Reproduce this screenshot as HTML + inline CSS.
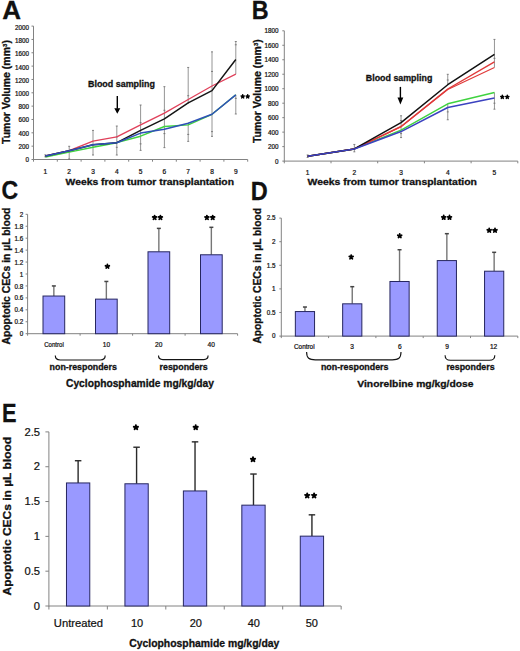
<!DOCTYPE html>
<html><head><meta charset="utf-8"><title>Figure</title>
<style>
html,body{margin:0;padding:0;background:#fff;}
body{width:520px;height:651px;overflow:hidden;}
svg{display:block;font-family:"Liberation Sans", sans-serif;}
</style></head><body>
<svg width="520" height="651" viewBox="0 0 520 651" fill="#111">
<rect x="0" y="0" width="520" height="651" fill="#fff"/>
<line x1="33.5" y1="26.1" x2="33.5" y2="160" stroke="#828282" stroke-width="1"/>
<line x1="33.5" y1="159.5" x2="247.7" y2="159.5" stroke="#828282" stroke-width="1"/>
<line x1="31.5" y1="159.5" x2="33.5" y2="159.5" stroke="#828282" stroke-width="1"/>
<text x="29" y="162.15" font-size="6.3" stroke="#111" stroke-width="0.22" text-anchor="end">0</text>
<line x1="31.5" y1="146.16" x2="33.5" y2="146.16" stroke="#828282" stroke-width="1"/>
<text x="29" y="148.93" font-size="6.3" stroke="#111" stroke-width="0.22" text-anchor="end">200</text>
<line x1="31.5" y1="132.82" x2="33.5" y2="132.82" stroke="#828282" stroke-width="1"/>
<text x="29" y="135.71" font-size="6.3" stroke="#111" stroke-width="0.22" text-anchor="end">400</text>
<line x1="31.5" y1="119.48" x2="33.5" y2="119.48" stroke="#828282" stroke-width="1"/>
<text x="29" y="122.49" font-size="6.3" stroke="#111" stroke-width="0.22" text-anchor="end">600</text>
<line x1="31.5" y1="106.14" x2="33.5" y2="106.14" stroke="#828282" stroke-width="1"/>
<text x="29" y="109.27" font-size="6.3" stroke="#111" stroke-width="0.22" text-anchor="end">800</text>
<line x1="31.5" y1="92.8" x2="33.5" y2="92.8" stroke="#828282" stroke-width="1"/>
<text x="29" y="96.05" font-size="6.3" stroke="#111" stroke-width="0.22" text-anchor="end">1000</text>
<line x1="31.5" y1="79.46" x2="33.5" y2="79.46" stroke="#828282" stroke-width="1"/>
<text x="29" y="82.83" font-size="6.3" stroke="#111" stroke-width="0.22" text-anchor="end">1200</text>
<line x1="31.5" y1="66.12" x2="33.5" y2="66.12" stroke="#828282" stroke-width="1"/>
<text x="29" y="69.61" font-size="6.3" stroke="#111" stroke-width="0.22" text-anchor="end">1400</text>
<line x1="31.5" y1="52.78" x2="33.5" y2="52.78" stroke="#828282" stroke-width="1"/>
<text x="29" y="56.39" font-size="6.3" stroke="#111" stroke-width="0.22" text-anchor="end">1600</text>
<line x1="31.5" y1="39.44" x2="33.5" y2="39.44" stroke="#828282" stroke-width="1"/>
<text x="29" y="43.17" font-size="6.3" stroke="#111" stroke-width="0.22" text-anchor="end">1800</text>
<line x1="31.5" y1="26.1" x2="33.5" y2="26.1" stroke="#828282" stroke-width="1"/>
<text x="29" y="29.95" font-size="6.3" stroke="#111" stroke-width="0.22" text-anchor="end">2000</text>
<line x1="33.5" y1="159.5" x2="33.5" y2="161.7" stroke="#828282" stroke-width="1"/>
<line x1="57.3" y1="159.5" x2="57.3" y2="161.7" stroke="#828282" stroke-width="1"/>
<line x1="81.1" y1="159.5" x2="81.1" y2="161.7" stroke="#828282" stroke-width="1"/>
<line x1="104.9" y1="159.5" x2="104.9" y2="161.7" stroke="#828282" stroke-width="1"/>
<line x1="128.7" y1="159.5" x2="128.7" y2="161.7" stroke="#828282" stroke-width="1"/>
<line x1="152.5" y1="159.5" x2="152.5" y2="161.7" stroke="#828282" stroke-width="1"/>
<line x1="176.3" y1="159.5" x2="176.3" y2="161.7" stroke="#828282" stroke-width="1"/>
<line x1="200.1" y1="159.5" x2="200.1" y2="161.7" stroke="#828282" stroke-width="1"/>
<line x1="223.9" y1="159.5" x2="223.9" y2="161.7" stroke="#828282" stroke-width="1"/>
<line x1="247.7" y1="159.5" x2="247.7" y2="161.7" stroke="#828282" stroke-width="1"/>
<text x="45.4" y="173.5" font-size="6.6" stroke="#111" stroke-width="0.22" text-anchor="middle">1</text>
<text x="69.2" y="173.5" font-size="6.6" stroke="#111" stroke-width="0.22" text-anchor="middle">2</text>
<text x="93" y="173.5" font-size="6.6" stroke="#111" stroke-width="0.22" text-anchor="middle">3</text>
<text x="116.8" y="173.5" font-size="6.6" stroke="#111" stroke-width="0.22" text-anchor="middle">4</text>
<text x="140.6" y="173.5" font-size="6.6" stroke="#111" stroke-width="0.22" text-anchor="middle">5</text>
<text x="164.4" y="173.5" font-size="6.6" stroke="#111" stroke-width="0.22" text-anchor="middle">6</text>
<text x="188.2" y="173.5" font-size="6.6" stroke="#111" stroke-width="0.22" text-anchor="middle">7</text>
<text x="212" y="173.5" font-size="6.6" stroke="#111" stroke-width="0.22" text-anchor="middle">8</text>
<text x="235.8" y="173.5" font-size="6.6" stroke="#111" stroke-width="0.22" text-anchor="middle">9</text>
<line x1="45.4" y1="156.83" x2="45.4" y2="154.83" stroke="#7a7a7a" stroke-width="0.8"/>
<line x1="44.4" y1="156.83" x2="46.4" y2="156.83" stroke="#6a6a6a" stroke-width="0.8"/>
<line x1="44.4" y1="154.83" x2="46.4" y2="154.83" stroke="#6a6a6a" stroke-width="0.8"/>
<line x1="69.2" y1="158.97" x2="69.2" y2="146.29" stroke="#7a7a7a" stroke-width="0.8"/>
<line x1="68.2" y1="158.97" x2="70.2" y2="158.97" stroke="#6a6a6a" stroke-width="0.8"/>
<line x1="68.2" y1="146.29" x2="70.2" y2="146.29" stroke="#6a6a6a" stroke-width="0.8"/>
<line x1="93" y1="155.03" x2="93" y2="130.42" stroke="#7a7a7a" stroke-width="0.8"/>
<line x1="92" y1="155.03" x2="94" y2="155.03" stroke="#6a6a6a" stroke-width="0.8"/>
<line x1="92" y1="147.29" x2="94" y2="147.29" stroke="#6a6a6a" stroke-width="0.8"/>
<line x1="92" y1="130.42" x2="94" y2="130.42" stroke="#6a6a6a" stroke-width="0.8"/>
<line x1="116.8" y1="155.03" x2="116.8" y2="126.02" stroke="#7a7a7a" stroke-width="0.8"/>
<line x1="115.8" y1="155.03" x2="117.8" y2="155.03" stroke="#6a6a6a" stroke-width="0.8"/>
<line x1="115.8" y1="147.29" x2="117.8" y2="147.29" stroke="#6a6a6a" stroke-width="0.8"/>
<line x1="115.8" y1="136.82" x2="117.8" y2="136.82" stroke="#6a6a6a" stroke-width="0.8"/>
<line x1="115.8" y1="126.02" x2="117.8" y2="126.02" stroke="#6a6a6a" stroke-width="0.8"/>
<line x1="140.6" y1="150.36" x2="140.6" y2="105.01" stroke="#7a7a7a" stroke-width="0.8"/>
<line x1="139.6" y1="150.36" x2="141.6" y2="150.36" stroke="#6a6a6a" stroke-width="0.8"/>
<line x1="139.6" y1="143.89" x2="141.6" y2="143.89" stroke="#6a6a6a" stroke-width="0.8"/>
<line x1="139.6" y1="122.68" x2="141.6" y2="122.68" stroke="#6a6a6a" stroke-width="0.8"/>
<line x1="139.6" y1="105.01" x2="141.6" y2="105.01" stroke="#6a6a6a" stroke-width="0.8"/>
<line x1="164.4" y1="147.63" x2="164.4" y2="86.66" stroke="#7a7a7a" stroke-width="0.8"/>
<line x1="163.4" y1="147.63" x2="165.4" y2="147.63" stroke="#6a6a6a" stroke-width="0.8"/>
<line x1="163.4" y1="133.62" x2="165.4" y2="133.62" stroke="#6a6a6a" stroke-width="0.8"/>
<line x1="163.4" y1="110.28" x2="165.4" y2="110.28" stroke="#6a6a6a" stroke-width="0.8"/>
<line x1="163.4" y1="86.66" x2="165.4" y2="86.66" stroke="#6a6a6a" stroke-width="0.8"/>
<line x1="188.2" y1="141.36" x2="188.2" y2="122.68" stroke="#7a7a7a" stroke-width="0.8"/>
<line x1="188.2" y1="103.81" x2="188.2" y2="67.45" stroke="#7a7a7a" stroke-width="0.8"/>
<line x1="187.2" y1="141.36" x2="189.2" y2="141.36" stroke="#6a6a6a" stroke-width="0.8"/>
<line x1="187.2" y1="134.42" x2="189.2" y2="134.42" stroke="#6a6a6a" stroke-width="0.8"/>
<line x1="187.2" y1="95.73" x2="189.2" y2="95.73" stroke="#6a6a6a" stroke-width="0.8"/>
<line x1="187.2" y1="67.45" x2="189.2" y2="67.45" stroke="#6a6a6a" stroke-width="0.8"/>
<line x1="212" y1="136.36" x2="212" y2="51.85" stroke="#7a7a7a" stroke-width="0.8"/>
<line x1="211" y1="136.36" x2="213" y2="136.36" stroke="#6a6a6a" stroke-width="0.8"/>
<line x1="211" y1="131.62" x2="213" y2="131.62" stroke="#6a6a6a" stroke-width="0.8"/>
<line x1="211" y1="71.46" x2="213" y2="71.46" stroke="#6a6a6a" stroke-width="0.8"/>
<line x1="211" y1="51.85" x2="213" y2="51.85" stroke="#6a6a6a" stroke-width="0.8"/>
<line x1="235.8" y1="114.01" x2="235.8" y2="94.8" stroke="#7a7a7a" stroke-width="0.8"/>
<line x1="235.8" y1="74.19" x2="235.8" y2="41.51" stroke="#7a7a7a" stroke-width="0.8"/>
<line x1="234.8" y1="114.01" x2="236.8" y2="114.01" stroke="#6a6a6a" stroke-width="0.8"/>
<line x1="234.8" y1="98.34" x2="236.8" y2="98.34" stroke="#6a6a6a" stroke-width="0.8"/>
<line x1="234.8" y1="44.78" x2="236.8" y2="44.78" stroke="#6a6a6a" stroke-width="0.8"/>
<line x1="234.8" y1="41.51" x2="236.8" y2="41.51" stroke="#6a6a6a" stroke-width="0.8"/>
<polyline points="45.4,157.1 69.2,152.16 93,147.29 116.8,142.69 140.6,136.22 164.4,126.48 188.2,124.88 212,114.28 235.8,94.8" fill="none" stroke="#3fd23f" stroke-width="1.4" stroke-linejoin="round"/>
<polyline points="45.4,155.9 69.2,150.7 93,141.22 116.8,136.82 140.6,124.82 164.4,113.08 188.2,99.47 212,86 235.8,74.19" fill="none" stroke="#e0405a" stroke-width="1.3" stroke-linejoin="round"/>
<polyline points="45.4,155.9 69.2,150.7 93,144.83 116.8,142.69 140.6,130.42 164.4,118.81 188.2,102.87 212,90.6 235.8,59.52" fill="none" stroke="#151515" stroke-width="1.5" stroke-linejoin="round"/>
<polyline points="45.4,155.9 69.2,150.7 93,144.83 116.8,142.69 140.6,133.09 164.4,129.22 188.2,123.22 212,114.28 235.8,94.8" fill="none" stroke="#2f50b8" stroke-width="1.5" stroke-linejoin="round"/>
<text x="2.3" y="18.75" font-size="25.5" stroke="#111" stroke-width="0.3" font-weight="bold" transform="matrix(1.02 0 0 1 -0.05 0)">A</text>
<text x="9.9" y="144" font-size="10.5" stroke="#111" stroke-width="0.3" font-weight="bold" transform="rotate(-90 9.9 144)">Tumor Volume (mm<tspan font-size="6.0" dy="-3.3">3</tspan><tspan dy="3.3">)</tspan></text>
<text x="88" y="86.9" font-size="9.1" stroke="#111" stroke-width="0.3" font-weight="bold" textLength="66.9" lengthAdjust="spacingAndGlyphs">Blood sampling</text>
<line x1="117.3" y1="96" x2="117.3" y2="108.7" stroke="#000" stroke-width="1.4"/>
<polygon points="114.3,108.2 120.3,108.2 117.3,113.8" fill="#000"/>
<path d="M242.7,96.5L242.7,94.84M242.7,96.5L244.27,95.99M242.7,96.5L243.67,97.84M242.7,96.5L241.73,97.84M242.7,96.5L241.13,95.99" stroke="#000" stroke-width="1.49" stroke-linecap="round" fill="none"/>
<path d="M247.7,96.5L247.7,94.84M247.7,96.5L249.27,95.99M247.7,96.5L248.67,97.84M247.7,96.5L246.73,97.84M247.7,96.5L246.13,95.99" stroke="#000" stroke-width="1.49" stroke-linecap="round" fill="none"/>
<text x="65.6" y="185" font-size="9.4" stroke="#111" stroke-width="0.3" font-weight="bold" textLength="168.4" lengthAdjust="spacingAndGlyphs">Weeks from tumor transplantation</text>
<line x1="284.3" y1="30.8" x2="284.3" y2="161.6" stroke="#828282" stroke-width="1"/>
<line x1="284.3" y1="161.1" x2="517.8" y2="161.1" stroke="#828282" stroke-width="1"/>
<line x1="282.3" y1="161.1" x2="284.3" y2="161.1" stroke="#828282" stroke-width="1"/>
<text x="278.4" y="163.65" font-size="6.3" stroke="#111" stroke-width="0.22" text-anchor="end">0</text>
<line x1="282.3" y1="146.62" x2="284.3" y2="146.62" stroke="#828282" stroke-width="1"/>
<text x="278.4" y="149.17" font-size="6.3" stroke="#111" stroke-width="0.22" text-anchor="end">200</text>
<line x1="282.3" y1="132.14" x2="284.3" y2="132.14" stroke="#828282" stroke-width="1"/>
<text x="278.4" y="134.69" font-size="6.3" stroke="#111" stroke-width="0.22" text-anchor="end">400</text>
<line x1="282.3" y1="117.67" x2="284.3" y2="117.67" stroke="#828282" stroke-width="1"/>
<text x="278.4" y="120.22" font-size="6.3" stroke="#111" stroke-width="0.22" text-anchor="end">600</text>
<line x1="282.3" y1="103.19" x2="284.3" y2="103.19" stroke="#828282" stroke-width="1"/>
<text x="278.4" y="105.74" font-size="6.3" stroke="#111" stroke-width="0.22" text-anchor="end">800</text>
<line x1="282.3" y1="88.71" x2="284.3" y2="88.71" stroke="#828282" stroke-width="1"/>
<text x="278.4" y="91.26" font-size="6.3" stroke="#111" stroke-width="0.22" text-anchor="end">1000</text>
<line x1="282.3" y1="74.23" x2="284.3" y2="74.23" stroke="#828282" stroke-width="1"/>
<text x="278.4" y="76.78" font-size="6.3" stroke="#111" stroke-width="0.22" text-anchor="end">1200</text>
<line x1="282.3" y1="59.76" x2="284.3" y2="59.76" stroke="#828282" stroke-width="1"/>
<text x="278.4" y="62.31" font-size="6.3" stroke="#111" stroke-width="0.22" text-anchor="end">1400</text>
<line x1="282.3" y1="45.28" x2="284.3" y2="45.28" stroke="#828282" stroke-width="1"/>
<text x="278.4" y="47.83" font-size="6.3" stroke="#111" stroke-width="0.22" text-anchor="end">1600</text>
<line x1="282.3" y1="30.8" x2="284.3" y2="30.8" stroke="#828282" stroke-width="1"/>
<text x="278.4" y="33.35" font-size="6.3" stroke="#111" stroke-width="0.22" text-anchor="end">1800</text>
<line x1="284.3" y1="161.1" x2="284.3" y2="163.3" stroke="#828282" stroke-width="1"/>
<line x1="331" y1="161.1" x2="331" y2="163.3" stroke="#828282" stroke-width="1"/>
<line x1="377.7" y1="161.1" x2="377.7" y2="163.3" stroke="#828282" stroke-width="1"/>
<line x1="424.4" y1="161.1" x2="424.4" y2="163.3" stroke="#828282" stroke-width="1"/>
<line x1="471.1" y1="161.1" x2="471.1" y2="163.3" stroke="#828282" stroke-width="1"/>
<line x1="517.8" y1="161.1" x2="517.8" y2="163.3" stroke="#828282" stroke-width="1"/>
<text x="307.65" y="174.5" font-size="6.6" stroke="#111" stroke-width="0.22" text-anchor="middle">1</text>
<text x="354.35" y="174.5" font-size="6.6" stroke="#111" stroke-width="0.22" text-anchor="middle">2</text>
<text x="401.05" y="174.5" font-size="6.6" stroke="#111" stroke-width="0.22" text-anchor="middle">3</text>
<text x="447.75" y="174.5" font-size="6.6" stroke="#111" stroke-width="0.22" text-anchor="middle">4</text>
<text x="494.45" y="174.5" font-size="6.6" stroke="#111" stroke-width="0.22" text-anchor="middle">5</text>
<line x1="307.65" y1="157.48" x2="307.65" y2="154.95" stroke="#7a7a7a" stroke-width="0.8"/>
<line x1="306.65" y1="157.48" x2="308.65" y2="157.48" stroke="#6a6a6a" stroke-width="0.8"/>
<line x1="306.65" y1="154.95" x2="308.65" y2="154.95" stroke="#6a6a6a" stroke-width="0.8"/>
<line x1="354.35" y1="151.83" x2="354.35" y2="144.45" stroke="#7a7a7a" stroke-width="0.8"/>
<line x1="353.35" y1="151.83" x2="355.35" y2="151.83" stroke="#6a6a6a" stroke-width="0.8"/>
<line x1="353.35" y1="144.45" x2="355.35" y2="144.45" stroke="#6a6a6a" stroke-width="0.8"/>
<line x1="401.05" y1="137.57" x2="401.05" y2="115.78" stroke="#7a7a7a" stroke-width="0.8"/>
<line x1="400.05" y1="137.57" x2="402.05" y2="137.57" stroke="#6a6a6a" stroke-width="0.8"/>
<line x1="400.05" y1="133.59" x2="402.05" y2="133.59" stroke="#6a6a6a" stroke-width="0.8"/>
<line x1="400.05" y1="120.56" x2="402.05" y2="120.56" stroke="#6a6a6a" stroke-width="0.8"/>
<line x1="400.05" y1="115.78" x2="402.05" y2="115.78" stroke="#6a6a6a" stroke-width="0.8"/>
<line x1="447.75" y1="119.77" x2="447.75" y2="104.06" stroke="#7a7a7a" stroke-width="0.8"/>
<line x1="447.75" y1="84.73" x2="447.75" y2="74.31" stroke="#7a7a7a" stroke-width="0.8"/>
<line x1="446.75" y1="119.77" x2="448.75" y2="119.77" stroke="#6a6a6a" stroke-width="0.8"/>
<line x1="446.75" y1="111.88" x2="448.75" y2="111.88" stroke="#6a6a6a" stroke-width="0.8"/>
<line x1="446.75" y1="80.02" x2="448.75" y2="80.02" stroke="#6a6a6a" stroke-width="0.8"/>
<line x1="446.75" y1="74.31" x2="448.75" y2="74.31" stroke="#6a6a6a" stroke-width="0.8"/>
<line x1="494.45" y1="109.2" x2="494.45" y2="92.55" stroke="#7a7a7a" stroke-width="0.8"/>
<line x1="494.45" y1="67.5" x2="494.45" y2="39.41" stroke="#7a7a7a" stroke-width="0.8"/>
<line x1="493.45" y1="109.2" x2="495.45" y2="109.2" stroke="#6a6a6a" stroke-width="0.8"/>
<line x1="493.45" y1="103.19" x2="495.45" y2="103.19" stroke="#6a6a6a" stroke-width="0.8"/>
<line x1="493.45" y1="58.31" x2="495.45" y2="58.31" stroke="#6a6a6a" stroke-width="0.8"/>
<line x1="493.45" y1="39.41" x2="495.45" y2="39.41" stroke="#6a6a6a" stroke-width="0.8"/>
<polyline points="307.65,156.25 354.35,148.94 401.05,130.19 447.75,103.77 494.45,92.55" fill="none" stroke="#3fd23f" stroke-width="1.4" stroke-linejoin="round"/>
<polyline points="307.65,156.25 354.35,148.94 401.05,126.79 447.75,89.44 494.45,67.5" fill="none" stroke="#e03a3a" stroke-width="1.2" stroke-linejoin="round"/>
<polyline points="307.65,156.25 354.35,148.94 401.05,126.5 447.75,89 494.45,61.78" fill="none" stroke="#e03a3a" stroke-width="1.4" stroke-linejoin="round"/>
<polyline points="307.65,156.25 354.35,148.94 401.05,122.59 447.75,84.73 494.45,54.47" fill="none" stroke="#111" stroke-width="1.5" stroke-linejoin="round"/>
<polyline points="307.65,156.25 354.35,148.94 401.05,131.57 447.75,107.53 494.45,98.05" fill="none" stroke="#3b42c0" stroke-width="1.5" stroke-linejoin="round"/>
<text x="250.9" y="18.9" font-size="25.4" stroke="#111" stroke-width="0.3" font-weight="bold" transform="matrix(0.92 0 0 1 20.82 0)">B</text>
<text x="260.9" y="143.1" font-size="10.5" stroke="#111" stroke-width="0.3" font-weight="bold" transform="rotate(-90 260.9 143.1)">Tumor Volume (mm<tspan font-size="6.0" dy="-3.3">3</tspan><tspan dy="3.3">)</tspan></text>
<text x="365.8" y="80.8" font-size="9.1" stroke="#111" stroke-width="0.3" font-weight="bold" textLength="66.5" lengthAdjust="spacingAndGlyphs">Blood sampling</text>
<line x1="400.4" y1="86.9" x2="400.4" y2="98" stroke="#000" stroke-width="1.4"/>
<polygon points="397.5,97.5 403.3,97.5 400.4,104.6" fill="#000"/>
<path d="M502.3,97L502.3,95.34M502.3,97L503.87,96.49M502.3,97L503.27,98.34M502.3,97L501.33,98.34M502.3,97L500.73,96.49" stroke="#000" stroke-width="1.49" stroke-linecap="round" fill="none"/>
<path d="M507.3,97L507.3,95.34M507.3,97L508.87,96.49M507.3,97L508.27,98.34M507.3,97L506.33,98.34M507.3,97L505.73,96.49" stroke="#000" stroke-width="1.49" stroke-linecap="round" fill="none"/>
<text x="307.5" y="184.8" font-size="9.4" stroke="#111" stroke-width="0.3" font-weight="bold" textLength="169.5" lengthAdjust="spacingAndGlyphs">Weeks from tumor transplantation</text>
<line x1="27.6" y1="214.3" x2="27.6" y2="334.2" stroke="#828282" stroke-width="1"/>
<line x1="27.6" y1="333.7" x2="237.6" y2="333.7" stroke="#828282" stroke-width="1"/>
<line x1="25.6" y1="333.7" x2="27.6" y2="333.7" stroke="#828282" stroke-width="1"/>
<text x="23.2" y="336.26" font-size="6.3" stroke="#111" stroke-width="0.22" text-anchor="end">0</text>
<line x1="25.6" y1="321.76" x2="27.6" y2="321.76" stroke="#828282" stroke-width="1"/>
<text x="23.2" y="324.32" font-size="6.3" stroke="#111" stroke-width="0.22" text-anchor="end">0.2</text>
<line x1="25.6" y1="309.82" x2="27.6" y2="309.82" stroke="#828282" stroke-width="1"/>
<text x="23.2" y="312.38" font-size="6.3" stroke="#111" stroke-width="0.22" text-anchor="end">0.4</text>
<line x1="25.6" y1="297.88" x2="27.6" y2="297.88" stroke="#828282" stroke-width="1"/>
<text x="23.2" y="300.44" font-size="6.3" stroke="#111" stroke-width="0.22" text-anchor="end">0.6</text>
<line x1="25.6" y1="285.94" x2="27.6" y2="285.94" stroke="#828282" stroke-width="1"/>
<text x="23.2" y="288.5" font-size="6.3" stroke="#111" stroke-width="0.22" text-anchor="end">0.8</text>
<line x1="25.6" y1="274" x2="27.6" y2="274" stroke="#828282" stroke-width="1"/>
<text x="23.2" y="276.56" font-size="6.3" stroke="#111" stroke-width="0.22" text-anchor="end">1</text>
<line x1="25.6" y1="262.06" x2="27.6" y2="262.06" stroke="#828282" stroke-width="1"/>
<text x="23.2" y="264.62" font-size="6.3" stroke="#111" stroke-width="0.22" text-anchor="end">1.2</text>
<line x1="25.6" y1="250.12" x2="27.6" y2="250.12" stroke="#828282" stroke-width="1"/>
<text x="23.2" y="252.68" font-size="6.3" stroke="#111" stroke-width="0.22" text-anchor="end">1.4</text>
<line x1="25.6" y1="238.18" x2="27.6" y2="238.18" stroke="#828282" stroke-width="1"/>
<text x="23.2" y="240.74" font-size="6.3" stroke="#111" stroke-width="0.22" text-anchor="end">1.6</text>
<line x1="25.6" y1="226.24" x2="27.6" y2="226.24" stroke="#828282" stroke-width="1"/>
<text x="23.2" y="228.8" font-size="6.3" stroke="#111" stroke-width="0.22" text-anchor="end">1.8</text>
<line x1="25.6" y1="214.3" x2="27.6" y2="214.3" stroke="#828282" stroke-width="1"/>
<text x="23.2" y="216.86" font-size="6.3" stroke="#111" stroke-width="0.22" text-anchor="end">2</text>
<line x1="27.6" y1="333.7" x2="27.6" y2="335.7" stroke="#828282" stroke-width="1"/>
<line x1="80.1" y1="333.7" x2="80.1" y2="335.7" stroke="#828282" stroke-width="1"/>
<line x1="132.6" y1="333.7" x2="132.6" y2="335.7" stroke="#828282" stroke-width="1"/>
<line x1="185.1" y1="333.7" x2="185.1" y2="335.7" stroke="#828282" stroke-width="1"/>
<line x1="237.6" y1="333.7" x2="237.6" y2="335.7" stroke="#828282" stroke-width="1"/>
<line x1="53.85" y1="285.94" x2="53.85" y2="296.03" stroke="#767676" stroke-width="1.4"/>
<line x1="51.85" y1="285.94" x2="55.85" y2="285.94" stroke="#444" stroke-width="1.5"/>
<rect x="43" y="296.03" width="21.7" height="37.67" fill="#9999ff" stroke="#262660" stroke-width="1"/>
<line x1="106.35" y1="281.46" x2="106.35" y2="299.13" stroke="#767676" stroke-width="1.4"/>
<line x1="104.35" y1="281.46" x2="108.35" y2="281.46" stroke="#444" stroke-width="1.5"/>
<rect x="95.5" y="299.13" width="21.7" height="34.57" fill="#9999ff" stroke="#262660" stroke-width="1"/>
<line x1="158.85" y1="228.39" x2="158.85" y2="251.79" stroke="#767676" stroke-width="1.4"/>
<line x1="156.85" y1="228.39" x2="160.85" y2="228.39" stroke="#444" stroke-width="1.5"/>
<rect x="148" y="251.79" width="21.7" height="81.91" fill="#9999ff" stroke="#262660" stroke-width="1"/>
<line x1="211.35" y1="227.31" x2="211.35" y2="254.78" stroke="#767676" stroke-width="1.4"/>
<line x1="209.35" y1="227.31" x2="213.35" y2="227.31" stroke="#444" stroke-width="1.5"/>
<rect x="200.5" y="254.78" width="21.7" height="78.92" fill="#9999ff" stroke="#262660" stroke-width="1"/>
<text x="1.6" y="199" font-size="25.3" stroke="#111" stroke-width="0.3" font-weight="bold" transform="matrix(0.91 0 0 1 0.14 0)">C</text>
<text x="10" y="344.5" font-size="10.2" stroke="#111" stroke-width="0.3" font-weight="bold" textLength="136.9" lengthAdjust="spacingAndGlyphs" transform="rotate(-90 10 344.5)">Apoptotic CECs in µL blood</text>
<path d="M107.4,266.4L107.4,264.4M107.4,266.4L109.3,265.78M107.4,266.4L108.58,268.02M107.4,266.4L106.22,268.02M107.4,266.4L105.5,265.78" stroke="#000" stroke-width="1.8" stroke-linecap="round" fill="none"/>
<path d="M154.6,217.6L154.6,215.6M154.6,217.6L156.5,216.98M154.6,217.6L155.78,219.22M154.6,217.6L153.42,219.22M154.6,217.6L152.7,216.98" stroke="#000" stroke-width="1.8" stroke-linecap="round" fill="none"/>
<path d="M160.4,217.6L160.4,215.6M160.4,217.6L162.3,216.98M160.4,217.6L161.58,219.22M160.4,217.6L159.22,219.22M160.4,217.6L158.5,216.98" stroke="#000" stroke-width="1.8" stroke-linecap="round" fill="none"/>
<path d="M206.9,217.6L206.9,215.6M206.9,217.6L208.8,216.98M206.9,217.6L208.08,219.22M206.9,217.6L205.72,219.22M206.9,217.6L205,216.98" stroke="#000" stroke-width="1.8" stroke-linecap="round" fill="none"/>
<path d="M212.7,217.6L212.7,215.6M212.7,217.6L214.6,216.98M212.7,217.6L213.88,219.22M212.7,217.6L211.52,219.22M212.7,217.6L210.8,216.98" stroke="#000" stroke-width="1.8" stroke-linecap="round" fill="none"/>
<text x="44.2" y="347.4" font-size="6.5" stroke="#111" stroke-width="0.22" textLength="19.6" lengthAdjust="spacingAndGlyphs">Control</text>
<text x="106.5" y="347.4" font-size="6.6" stroke="#111" stroke-width="0.22" text-anchor="middle">10</text>
<text x="158.7" y="347.4" font-size="6.6" stroke="#111" stroke-width="0.22" text-anchor="middle">20</text>
<text x="211.2" y="347.4" font-size="6.6" stroke="#111" stroke-width="0.22" text-anchor="middle">40</text>
<path d="M55.3,355.6 C55.3,359.12 56.75,360 60.14,360 L100.36,360 C103.75,360 105.2,359.12 105.2,355.6" fill="none" stroke="#151515" stroke-width="1.15"/>
<path d="M158.5,355.6 C158.5,358.8 159.82,359.6 162.9,359.6 L203.7,359.6 C206.78,359.6 208.1,358.8 208.1,355.6" fill="none" stroke="#151515" stroke-width="1.15"/>
<text x="49.6" y="369.7" font-size="8.9" stroke="#111" stroke-width="0.3" font-weight="bold" textLength="67.3" lengthAdjust="spacingAndGlyphs">non-responders</text>
<text x="159.6" y="369.7" font-size="8.9" stroke="#111" stroke-width="0.3" font-weight="bold" textLength="48.1" lengthAdjust="spacingAndGlyphs">responders</text>
<text x="66" y="386.8" font-size="10.2" stroke="#111" stroke-width="0.3" font-weight="bold" textLength="148" lengthAdjust="spacingAndGlyphs">Cyclophosphamide mg/kg/day</text>
<line x1="281.3" y1="218.1" x2="281.3" y2="336.6" stroke="#828282" stroke-width="1"/>
<line x1="281.3" y1="336.1" x2="517.8" y2="336.1" stroke="#828282" stroke-width="1"/>
<line x1="279.3" y1="336.1" x2="281.3" y2="336.1" stroke="#828282" stroke-width="1"/>
<text x="275.6" y="338.36" font-size="6.3" stroke="#111" stroke-width="0.22" text-anchor="end">0</text>
<line x1="279.3" y1="312.5" x2="281.3" y2="312.5" stroke="#828282" stroke-width="1"/>
<text x="275.6" y="314.76" font-size="6.3" stroke="#111" stroke-width="0.22" text-anchor="end">0.5</text>
<line x1="279.3" y1="288.9" x2="281.3" y2="288.9" stroke="#828282" stroke-width="1"/>
<text x="275.6" y="291.16" font-size="6.3" stroke="#111" stroke-width="0.22" text-anchor="end">1</text>
<line x1="279.3" y1="265.3" x2="281.3" y2="265.3" stroke="#828282" stroke-width="1"/>
<text x="275.6" y="267.56" font-size="6.3" stroke="#111" stroke-width="0.22" text-anchor="end">1.5</text>
<line x1="279.3" y1="241.7" x2="281.3" y2="241.7" stroke="#828282" stroke-width="1"/>
<text x="275.6" y="243.96" font-size="6.3" stroke="#111" stroke-width="0.22" text-anchor="end">2</text>
<line x1="279.3" y1="218.1" x2="281.3" y2="218.1" stroke="#828282" stroke-width="1"/>
<text x="275.6" y="220.36" font-size="6.3" stroke="#111" stroke-width="0.22" text-anchor="end">2.5</text>
<line x1="281.3" y1="336.1" x2="281.3" y2="338.1" stroke="#828282" stroke-width="1"/>
<line x1="328.6" y1="336.1" x2="328.6" y2="338.1" stroke="#828282" stroke-width="1"/>
<line x1="375.9" y1="336.1" x2="375.9" y2="338.1" stroke="#828282" stroke-width="1"/>
<line x1="423.2" y1="336.1" x2="423.2" y2="338.1" stroke="#828282" stroke-width="1"/>
<line x1="470.5" y1="336.1" x2="470.5" y2="338.1" stroke="#828282" stroke-width="1"/>
<line x1="517.8" y1="336.1" x2="517.8" y2="338.1" stroke="#828282" stroke-width="1"/>
<line x1="304.95" y1="307.02" x2="304.95" y2="311.56" stroke="#767676" stroke-width="1.4"/>
<line x1="302.95" y1="307.02" x2="306.95" y2="307.02" stroke="#444" stroke-width="1.5"/>
<rect x="295.35" y="311.56" width="19.2" height="24.54" fill="#9999ff" stroke="#262660" stroke-width="1"/>
<line x1="352.25" y1="286.68" x2="352.25" y2="303.82" stroke="#767676" stroke-width="1.4"/>
<line x1="350.25" y1="286.68" x2="354.25" y2="286.68" stroke="#444" stroke-width="1.5"/>
<rect x="342.65" y="303.82" width="19.2" height="32.28" fill="#9999ff" stroke="#262660" stroke-width="1"/>
<line x1="399.55" y1="249.72" x2="399.55" y2="281.49" stroke="#767676" stroke-width="1.4"/>
<line x1="397.55" y1="249.72" x2="401.55" y2="249.72" stroke="#444" stroke-width="1.5"/>
<rect x="389.95" y="281.49" width="19.2" height="54.61" fill="#9999ff" stroke="#262660" stroke-width="1"/>
<line x1="446.85" y1="233.68" x2="446.85" y2="260.58" stroke="#767676" stroke-width="1.4"/>
<line x1="444.85" y1="233.68" x2="448.85" y2="233.68" stroke="#444" stroke-width="1.5"/>
<rect x="437.25" y="260.58" width="19.2" height="75.52" fill="#9999ff" stroke="#262660" stroke-width="1"/>
<line x1="494.15" y1="252.32" x2="494.15" y2="271.2" stroke="#767676" stroke-width="1.4"/>
<line x1="492.15" y1="252.32" x2="496.15" y2="252.32" stroke="#444" stroke-width="1.5"/>
<rect x="484.55" y="271.2" width="19.2" height="64.9" fill="#9999ff" stroke="#262660" stroke-width="1"/>
<text x="251.7" y="199.8" font-size="25.3" stroke="#111" stroke-width="0.3" font-weight="bold" transform="matrix(0.93 0 0 1 16.61 0)">D</text>
<text x="260.9" y="343.6" font-size="10.2" stroke="#111" stroke-width="0.3" font-weight="bold" textLength="135.6" lengthAdjust="spacingAndGlyphs" transform="rotate(-90 260.9 343.6)">Apoptotic CECs in µL blood</text>
<path d="M351.2,257.1L351.2,255.1M351.2,257.1L353.1,256.48M351.2,257.1L352.38,258.72M351.2,257.1L350.02,258.72M351.2,257.1L349.3,256.48" stroke="#000" stroke-width="1.8" stroke-linecap="round" fill="none"/>
<path d="M399.7,235.9L399.7,233.9M399.7,235.9L401.6,235.28M399.7,235.9L400.88,237.52M399.7,235.9L398.52,237.52M399.7,235.9L397.8,235.28" stroke="#000" stroke-width="1.8" stroke-linecap="round" fill="none"/>
<path d="M443.7,217.5L443.7,215.5M443.7,217.5L445.6,216.88M443.7,217.5L444.88,219.12M443.7,217.5L442.52,219.12M443.7,217.5L441.8,216.88" stroke="#000" stroke-width="1.8" stroke-linecap="round" fill="none"/>
<path d="M449.5,217.5L449.5,215.5M449.5,217.5L451.4,216.88M449.5,217.5L450.68,219.12M449.5,217.5L448.32,219.12M449.5,217.5L447.6,216.88" stroke="#000" stroke-width="1.8" stroke-linecap="round" fill="none"/>
<path d="M489.2,230.4L489.2,228.4M489.2,230.4L491.1,229.78M489.2,230.4L490.38,232.02M489.2,230.4L488.02,232.02M489.2,230.4L487.3,229.78" stroke="#000" stroke-width="1.8" stroke-linecap="round" fill="none"/>
<path d="M495,230.4L495,228.4M495,230.4L496.9,229.78M495,230.4L496.18,232.02M495,230.4L493.82,232.02M495,230.4L493.1,229.78" stroke="#000" stroke-width="1.8" stroke-linecap="round" fill="none"/>
<text x="294" y="348.9" font-size="6.5" stroke="#111" stroke-width="0.22" textLength="20.6" lengthAdjust="spacingAndGlyphs">Control</text>
<text x="352.2" y="348.9" font-size="6.6" stroke="#111" stroke-width="0.22" text-anchor="middle">3</text>
<text x="399.8" y="348.9" font-size="6.6" stroke="#111" stroke-width="0.22" text-anchor="middle">6</text>
<text x="447" y="348.9" font-size="6.6" stroke="#111" stroke-width="0.22" text-anchor="middle">9</text>
<text x="493.6" y="348.9" font-size="6.6" stroke="#111" stroke-width="0.22" text-anchor="middle">12</text>
<path d="M306.6,351.9 C306.6,358.22 309.21,359.8 315.29,359.8 L392.31,359.8 C398.39,359.8 401,358.22 401,351.9" fill="none" stroke="#151515" stroke-width="1.15"/>
<path d="M445.1,355.3 C445.1,359.22 446.72,360.2 450.49,360.2 L489.41,360.2 C493.18,360.2 494.8,359.22 494.8,355.3" fill="none" stroke="#151515" stroke-width="1.15"/>
<text x="320.9" y="369.7" font-size="8.9" stroke="#111" stroke-width="0.3" font-weight="bold" textLength="67.6" lengthAdjust="spacingAndGlyphs">non-responders</text>
<text x="446.4" y="369.8" font-size="8.9" stroke="#111" stroke-width="0.3" font-weight="bold" textLength="48.2" lengthAdjust="spacingAndGlyphs">responders</text>
<text x="357.3" y="386.7" font-size="9.8" stroke="#111" stroke-width="0.3" font-weight="bold" textLength="116.2" lengthAdjust="spacingAndGlyphs">Vinorelbine mg/kg/dose</text>
<line x1="48.9" y1="431.9" x2="48.9" y2="606.5" stroke="#828282" stroke-width="1"/>
<line x1="48.9" y1="606" x2="341.15" y2="606" stroke="#828282" stroke-width="1"/>
<line x1="45.4" y1="606" x2="48.9" y2="606" stroke="#828282" stroke-width="1"/>
<text x="40" y="609.71" font-size="11.2" stroke="#111" stroke-width="0.22" text-anchor="end">0</text>
<line x1="45.4" y1="571.18" x2="48.9" y2="571.18" stroke="#828282" stroke-width="1"/>
<text x="40" y="574.89" font-size="11.2" stroke="#111" stroke-width="0.22" text-anchor="end">0.5</text>
<line x1="45.4" y1="536.36" x2="48.9" y2="536.36" stroke="#828282" stroke-width="1"/>
<text x="40" y="540.07" font-size="11.2" stroke="#111" stroke-width="0.22" text-anchor="end">1</text>
<line x1="45.4" y1="501.54" x2="48.9" y2="501.54" stroke="#828282" stroke-width="1"/>
<text x="40" y="505.25" font-size="11.2" stroke="#111" stroke-width="0.22" text-anchor="end">1.5</text>
<line x1="45.4" y1="466.72" x2="48.9" y2="466.72" stroke="#828282" stroke-width="1"/>
<text x="40" y="470.43" font-size="11.2" stroke="#111" stroke-width="0.22" text-anchor="end">2</text>
<line x1="45.4" y1="431.9" x2="48.9" y2="431.9" stroke="#828282" stroke-width="1"/>
<text x="40" y="435.61" font-size="11.2" stroke="#111" stroke-width="0.22" text-anchor="end">2.5</text>
<line x1="48.9" y1="606" x2="48.9" y2="609.5" stroke="#828282" stroke-width="1"/>
<line x1="107.35" y1="606" x2="107.35" y2="609.5" stroke="#828282" stroke-width="1"/>
<line x1="165.8" y1="606" x2="165.8" y2="609.5" stroke="#828282" stroke-width="1"/>
<line x1="224.25" y1="606" x2="224.25" y2="609.5" stroke="#828282" stroke-width="1"/>
<line x1="282.7" y1="606" x2="282.7" y2="609.5" stroke="#828282" stroke-width="1"/>
<line x1="341.15" y1="606" x2="341.15" y2="609.5" stroke="#828282" stroke-width="1"/>
<line x1="78.12" y1="460.73" x2="78.12" y2="482.95" stroke="#2a2a2a" stroke-width="1.4"/>
<line x1="74.88" y1="460.73" x2="81.38" y2="460.73" stroke="#2a2a2a" stroke-width="1.4"/>
<rect x="66.47" y="482.95" width="23.3" height="123.05" fill="#9999ff" stroke="#262660" stroke-width="1"/>
<line x1="136.58" y1="447.22" x2="136.58" y2="483.78" stroke="#2a2a2a" stroke-width="1.4"/>
<line x1="133.33" y1="447.22" x2="139.83" y2="447.22" stroke="#2a2a2a" stroke-width="1.4"/>
<rect x="124.93" y="483.78" width="23.3" height="122.22" fill="#9999ff" stroke="#262660" stroke-width="1"/>
<line x1="195.03" y1="441.86" x2="195.03" y2="490.95" stroke="#2a2a2a" stroke-width="1.4"/>
<line x1="191.78" y1="441.86" x2="198.28" y2="441.86" stroke="#2a2a2a" stroke-width="1.4"/>
<rect x="183.38" y="490.95" width="23.3" height="115.05" fill="#9999ff" stroke="#262660" stroke-width="1"/>
<line x1="253.48" y1="474.03" x2="253.48" y2="505.16" stroke="#2a2a2a" stroke-width="1.4"/>
<line x1="250.23" y1="474.03" x2="256.73" y2="474.03" stroke="#2a2a2a" stroke-width="1.4"/>
<rect x="241.83" y="505.16" width="23.3" height="100.84" fill="#9999ff" stroke="#262660" stroke-width="1"/>
<line x1="311.93" y1="514.84" x2="311.93" y2="536.15" stroke="#2a2a2a" stroke-width="1.4"/>
<line x1="308.68" y1="514.84" x2="315.18" y2="514.84" stroke="#2a2a2a" stroke-width="1.4"/>
<rect x="300.28" y="536.15" width="23.3" height="69.85" fill="#9999ff" stroke="#262660" stroke-width="1"/>
<text x="2.1" y="421.7" font-size="25" stroke="#111" stroke-width="0.3" font-weight="bold" transform="matrix(0.87 0 0 1 0.27 0)">E</text>
<text x="10.9" y="595.4" font-size="11.8" stroke="#111" stroke-width="0.3" font-weight="bold" textLength="158.6" lengthAdjust="spacingAndGlyphs" transform="rotate(-90 10.9 595.4)">Apoptotic CECs in µL blood</text>
<path d="M135.9,427.4L135.9,425.19M135.9,427.4L138,426.72M135.9,427.4L137.2,429.19M135.9,427.4L134.6,429.19M135.9,427.4L133.8,426.72" stroke="#000" stroke-width="1.98" stroke-linecap="round" fill="none"/>
<path d="M195.7,427.4L195.7,425.19M195.7,427.4L197.8,426.72M195.7,427.4L197,429.19M195.7,427.4L194.4,429.19M195.7,427.4L193.6,426.72" stroke="#000" stroke-width="1.98" stroke-linecap="round" fill="none"/>
<path d="M253,459.4L253,457.19M253,459.4L255.1,458.72M253,459.4L254.3,461.19M253,459.4L251.7,461.19M253,459.4L250.9,458.72" stroke="#000" stroke-width="1.98" stroke-linecap="round" fill="none"/>
<path d="M307.2,495.6L307.2,493.39M307.2,495.6L309.3,494.92M307.2,495.6L308.5,497.39M307.2,495.6L305.9,497.39M307.2,495.6L305.1,494.92" stroke="#000" stroke-width="1.98" stroke-linecap="round" fill="none"/>
<path d="M314.1,495.6L314.1,493.39M314.1,495.6L316.2,494.92M314.1,495.6L315.4,497.39M314.1,495.6L312.8,497.39M314.1,495.6L312,494.92" stroke="#000" stroke-width="1.98" stroke-linecap="round" fill="none"/>
<text x="53.8" y="626.5" font-size="11" stroke="#111" stroke-width="0.22" textLength="49.3" lengthAdjust="spacingAndGlyphs">Untreated</text>
<text x="137.1" y="626.5" font-size="11" stroke="#111" stroke-width="0.22" text-anchor="middle">10</text>
<text x="195.8" y="626.5" font-size="11" stroke="#111" stroke-width="0.22" text-anchor="middle">20</text>
<text x="253.8" y="626.5" font-size="11" stroke="#111" stroke-width="0.22" text-anchor="middle">40</text>
<text x="311.8" y="626.5" font-size="11" stroke="#111" stroke-width="0.22" text-anchor="middle">50</text>
<text x="129.2" y="646.5" font-size="10.4" stroke="#111" stroke-width="0.3" font-weight="bold" textLength="150.1" lengthAdjust="spacingAndGlyphs">Cyclophosphamide mg/kg/day</text>
</svg>
</body></html>
